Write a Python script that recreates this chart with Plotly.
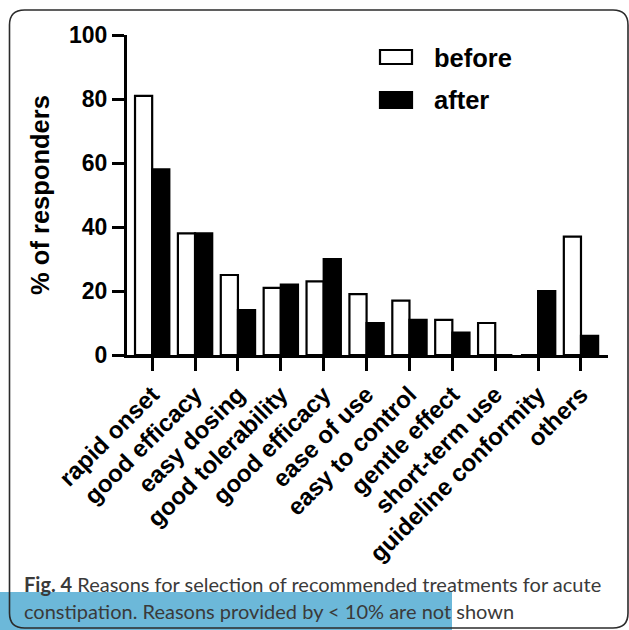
import plotly.graph_objects as go

categories = ["rapid onset", "good efficacy", "easy dosing", "good tolerability",
              "good efficacy ", "ease of use", "easy to control", "gentle effect",
              "short-term use", "guideline conformity", "others"]
before = [81, 38, 25, 21, 23, 19, 17, 11, 10, 0, 37]
after = [58, 38, 14, 22, 30, 10, 11, 7, 0, 20, 6]
y_ticks = [0, 20, 40, 60, 80, 100]
series_names = ["before", "after"]
caption_bold = "Fig. 4"
caption_line1 = "Reasons for selection of recommended treatments for acute"
caption_line2 = "constipation. Reasons provided by &lt; 10% are not shown"

W, H = 629, 630
L, R, T, B = 127, 21, 35, 275
PW, PH = W - L - R, H - T - B


def px(x):
    return (x - L) / PW


def py(y):
    return (H - B - y) / PH


BOLD = dict(family="Liberation Sans, Arial, sans-serif", weight="bold", color="black")

fig = go.Figure()
fig.add_trace(go.Bar(x=list(range(len(categories))), y=before, name=series_names[0],
                     marker=dict(color="white", line=dict(color="black", width=2.2)),
                     showlegend=False))
fig.add_trace(go.Bar(x=list(range(len(categories))), y=after, name=series_names[1],
                     marker=dict(color="black", line=dict(color="black", width=2.2)),
                     showlegend=False))

fig.update_layout(
    width=W, height=H,
    margin=dict(l=L, r=R, t=T, b=B, pad=0),
    paper_bgcolor="white", plot_bgcolor="white",
    barmode="group", bargap=0.2, bargroupgap=0,
    showlegend=False,
)
fig.update_xaxes(
    range=[-0.587, 10.63], tickmode="array",
    tickvals=list(range(len(categories))), ticktext=[c.strip() for c in categories],
    tickangle=-45, tickfont=dict(size=24, **BOLD),
    showline=True, linecolor="black", linewidth=3,
    ticks="outside", ticklen=13, tickwidth=3, tickcolor="black",
    showgrid=False, zeroline=False,
)
fig.update_yaxes(
    range=[0, 100], tickmode="array", tickvals=y_ticks,
    tickfont=dict(size=23, **BOLD),
    showline=True, linecolor="black", linewidth=3,
    ticks="outside", ticklen=12, tickwidth=3, tickcolor="black",
    showgrid=False, zeroline=False,
    title=dict(text="% of responders", font=dict(size=25.5, **BOLD), standoff=13),
)

shapes = []
# blue highlight band behind the caption
shapes.append(dict(type="rect", xref="paper", yref="paper",
                   x0=px(0), x1=px(452), y0=py(592), y1=py(630),
                   fillcolor="#6cb8d9", line=dict(width=0), layer="below"))
# rounded frame
r = 15
x0, y0, x1, y1 = 9.5, 10, 628, 628
path = (f"M {px(x0)},{py(y0 + r)} Q {px(x0)},{py(y0)} {px(x0 + r)},{py(y0)} "
        f"L {px(x1 - r)},{py(y0)} Q {px(x1)},{py(y0)} {px(x1)},{py(y0 + r)} "
        f"L {px(x1)},{py(y1 - r)} Q {px(x1)},{py(y1)} {px(x1 - r)},{py(y1)} "
        f"L {px(x0 + r)},{py(y1)} Q {px(x0)},{py(y1)} {px(x0)},{py(y1 - r)} Z")
shapes.append(dict(type="path", xref="paper", yref="paper", path=path,
                   line=dict(color="#2b2b2b", width=1.6), layer="above"))
# legend swatches
shapes.append(dict(type="rect", xref="paper", yref="paper",
                   x0=px(380), x1=px(412), y0=py(50), y1=py(64),
                   fillcolor="white", line=dict(color="black", width=2.2)))
shapes.append(dict(type="rect", xref="paper", yref="paper",
                   x0=px(380), x1=px(412), y0=py(92), y1=py(108),
                   fillcolor="black", line=dict(color="black", width=2.2)))
fig.update_layout(shapes=shapes)

annotations = [
    dict(text=series_names[0], x=px(432), y=py(58), xanchor="left", yanchor="middle",
         font=dict(size=25.5, **BOLD)),
    dict(text=series_names[1], x=px(432), y=py(100), xanchor="left", yanchor="middle",
         font=dict(size=25.5, **BOLD)),
    dict(text=f"<b>{caption_bold}</b> {caption_line1}", x=px(22), y=py(584),
         xanchor="left", yanchor="middle",
         font=dict(family="Lato, sans-serif", size=20, color="#3a3a3a")),
    dict(text=caption_line2, x=px(22), y=py(611), xanchor="left", yanchor="middle",
         font=dict(family="Lato, sans-serif", size=20, color="#3a3a3a")),
]
for a in annotations:
    a.update(xref="paper", yref="paper", showarrow=False)
fig.update_layout(annotations=annotations)

fig.write_html("out.html", config={"displayModeBar": False},
               post_script="document.body.style.margin='0';document.body.style.overflow='hidden';")
